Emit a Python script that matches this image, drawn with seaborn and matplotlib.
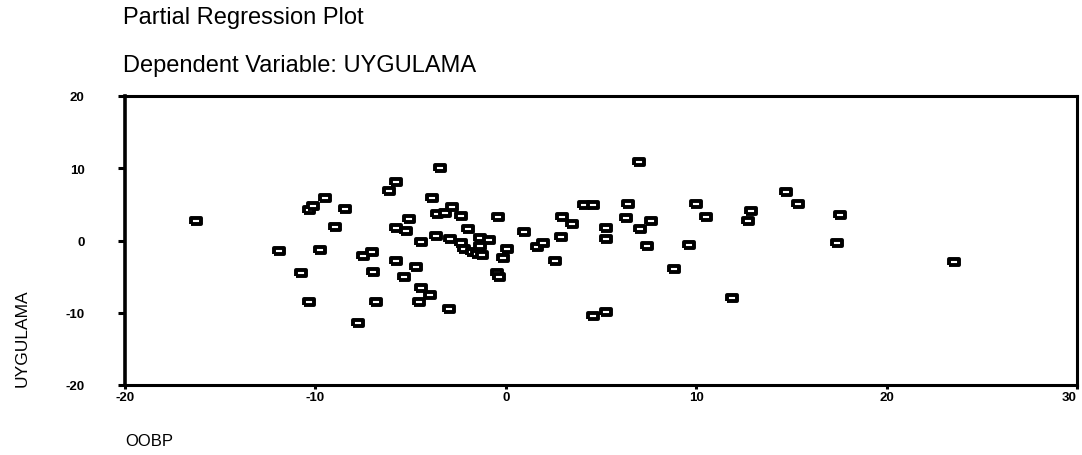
import seaborn as sns
import matplotlib.pyplot as plt
import pandas as pd

oobp = [-16.26, -11.9, -10.75, -10.35, -10.36, -10.1, -9.47, -9.75, -8.96, -8.43,
        -7.78, -7.52, -7.01, -6.98, -6.8, -6.14, -5.75, -5.79, -5.24, -5.75,
        -5.1, -5.35, -4.7, -4.45, -4.44, -4.0, -4.54, -3.9, -3.6, -3.65,
        -3.18, -2.95, -3.0, -3.44, -2.84, -2.35, -1.97, -2.37, -1.34, -0.86,
        -2.2, -1.8, -1.53, -1.25, -1.34, -0.4, 0.98, 0.08, -0.15, -0.46,
        -0.37, 1.64, 1.98, 2.96, 3.46, 2.92, 2.57, 4.1, 4.58, 6.41,
        7.02, 6.29, 7.65, 7.04, 7.43, 5.24, 5.24, 4.58, 5.27, 8.86,
        9.61, 10.01, 10.51, 11.86, 12.88, 12.74, 14.7, 15.35, 17.56, 17.42,
        23.55]
uygulama = [2.66, -1.45, -4.54, -8.5, 4.27, 4.78, 5.84, -1.27, 1.91, 4.32,
            -11.4, -2.1, -1.64, -4.4, -8.56, 6.9, 8.05, 1.73, 1.31, -2.8,
            2.98, -5.0, -3.6, -0.17, -6.57, -7.6, -8.5, 5.86, 3.7, 0.66,
            3.8, 0.25, -9.48, 10.0, 4.57, 3.43, 1.59, -0.35, 0.4, 0.08,
            -1.2, -1.6, -1.82, -1.95, -0.8, 3.3, 1.22, -1.18, -2.42, -4.55,
            -5.1, -0.95, -0.3, 3.32, 2.28, 0.42, -2.9, 4.86, 4.86, 5.07,
            10.9, 3.16, 2.63, 1.57, -0.8, 1.75, 0.2, -10.5, -9.94, -3.95,
            -0.67, 5.07, 3.2, -8.0, 4.1, 2.66, 6.67, 5.1, 3.57, -0.39,
            -3.02]
x_ticks = [-20, -10, 0, 10, 20, 30]
y_ticks = [-20, -10, 0, 10, 20]

df = pd.DataFrame({"OOBP": oobp, "UYGULAMA": uygulama})

sns.set_style("white")
plt.rcParams["font.family"] = ["Liberation Sans", "DejaVu Sans"]
plt.rcParams["text.color"] = "black"

fig = plt.figure(figsize=(10.82, 4.56), dpi=100)
ax = fig.add_axes([125 / 1082, 1 - 386 / 456, 952 / 1082, 289 / 456])

# marcador rectangular tipo SPSS
rect = [(-2.0, -1), (2.0, -1), (2.0, 1), (-2.0, 1), (-2.0, -1)]
sns.scatterplot(data=df, x="OOBP", y="UYGULAMA", ax=ax, marker=rect, s=53,
                facecolor="white", edgecolor="black", linewidth=2.8, zorder=3)

ax.set_xlim(-20, 30)
ax.set_ylim(-20, 20)
ax.set_xticks(x_ticks)
ax.set_yticks(y_ticks)
ax.set_xticklabels([str(t) for t in x_ticks], fontsize=9.5, fontweight="bold")
ax.set_yticklabels([str(t) for t in y_ticks], fontsize=9.5, fontweight="bold")
ax.get_xticklabels()[-1].set_horizontalalignment("right")
ax.tick_params(axis="x", bottom=True, direction="out", length=3, width=2.2,
               pad=1, color="black", labelcolor="black")
ax.tick_params(axis="y", left=True, direction="out", length=5, width=2.2,
               pad=24, color="black", labelcolor="black")
ax.set_xlabel("")
ax.set_ylabel("")
for side in ["top", "right", "bottom"]:
    ax.spines[side].set_linewidth(2.2)
    ax.spines[side].set_color("black")
ax.spines["left"].set_linewidth(2.6)
ax.spines["left"].set_color("black")

fig.text(123 / 1082, 1 - 24 / 456, "Partial Regression Plot", fontsize=17,
         va="baseline", ha="left", color="black")
fig.text(123 / 1082, 1 - 72 / 456, "Dependent Variable: UYGULAMA", fontsize=17,
         va="baseline", ha="left", color="black")
fig.text(125 / 1082, 1 - 446 / 456, "OOBP", fontsize=12, va="baseline",
         ha="left", color="black")
fig.text(22 / 1082, 1 - 338 / 456, "UYGULAMA", fontsize=12.5, rotation=90,
         va="center", ha="center", color="black")

fig.savefig("out.png", dpi=100)
